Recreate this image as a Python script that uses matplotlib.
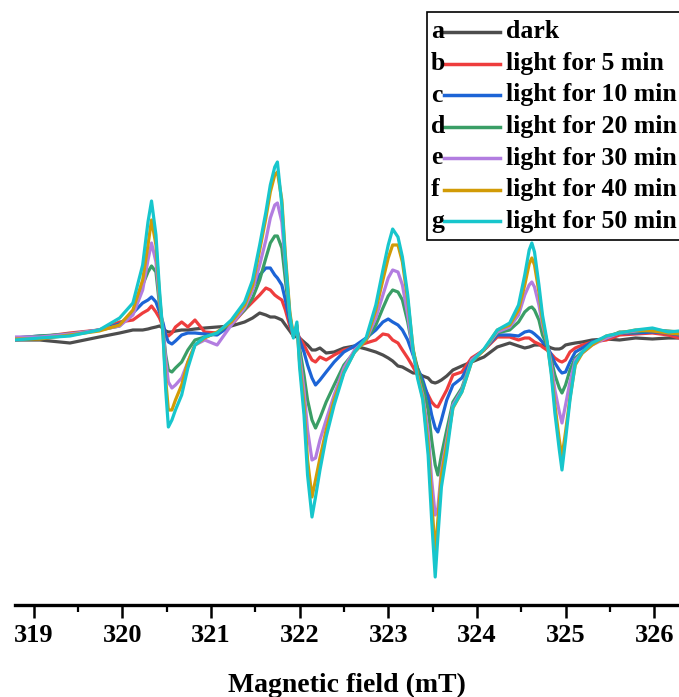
import matplotlib.pyplot as plt
from matplotlib.patches import Rectangle
from matplotlib.lines import Line2D
from matplotlib.ticker import MultipleLocator

plt.rcParams['font.family'] = ['Liberation Serif', 'DejaVu Serif']
plt.rcParams['font.weight'] = 'bold'

# magnetic field (mT), shared by all spectra
field = [318.79, 319.07, 319.41, 319.74, 319.97, 320.12, 320.23, 320.29, 320.33, 320.38,
         320.42, 320.46, 320.49, 320.52, 320.56, 320.60, 320.67, 320.74, 320.82, 320.93,
         321.07, 321.23, 321.38, 321.47, 321.55, 321.62, 321.67, 321.72, 321.75, 321.80,
         321.84, 321.89, 321.93, 321.97, 322.00, 322.05, 322.09, 322.14, 322.18, 322.23,
         322.30, 322.39, 322.50, 322.62, 322.75, 322.86, 322.94, 323.00, 323.05, 323.11,
         323.16, 323.22, 323.28, 323.33, 323.39, 323.45, 323.49, 323.53, 323.56, 323.60,
         323.66, 323.73, 323.83, 323.94, 324.08, 324.23, 324.37, 324.47, 324.54, 324.59,
         324.62, 324.65, 324.70, 324.74, 324.79, 324.84, 324.88, 324.93, 324.96, 325.00,
         325.05, 325.11, 325.19, 325.30, 325.46, 325.61, 325.79, 325.98, 326.16, 326.28]

# EPR intensity (a.u.)
dark = [0, 0, -3, 3, 7, 10, 10, 11, 12, 13,
        14, 12, 9, 8, 8, 9, 10, 10, 11, 12,
        13, 14, 18, 22, 27, 25, 23, 23, 22, 20,
        15, 9, 4, 3, 2, -2, -5, -10, -10, -8,
        -13, -12, -8, -6, -9, -12, -15, -18, -21, -26,
        -27, -30, -33, -33, -36, -38, -42, -43, -42, -40,
        -36, -30, -26, -22, -17, -7, -3, -6, -8, -7,
        -6, -5, -5, -5, -6, -8, -9, -9, -8, -5,
        -4, -3, -2, 0, 1, 0, 2, 1, 2, 2]

light_5 = [0, 3, 7, 10, 18, 20, 27, 30, 34, 28,
           22, 13, 6, 4, 7, 13, 18, 13, 20, 8,
           7, 15, 30, 38, 45, 52, 50, 45, 43, 40,
           30, 14, 4, 8, 2, -5, -12, -20, -22, -17,
           -20, -15, -10, -7, -3, 0, 6, 5, 0, -3,
           -10, -18, -27, -35, -45, -55, -62, -66, -67, -60,
           -50, -35, -32, -18, -10, 3, 3, 0, 2, 2,
           0, -2, -4, -7, -10, -14, -18, -21, -22, -20,
           -12, -8, -5, -2, 0, 5, 6, 7, 5, 2]

light_10 = [2, 4, 5, 10, 16, 27, 37, 40, 43, 38,
            28, 17, 5, -2, -4, -1, 5, 7, 7, 6,
            5, 15, 35, 52, 65, 72, 72, 65, 62, 55,
            40, 18, 4, 10, 0, -12, -25, -38, -45, -40,
            -32, -22, -12, -6, 2, 10, 18, 21, 18, 15,
            10, 0, -15, -28, -40, -57, -75, -88, -92, -80,
            -60, -45, -38, -20, -10, 5, 5, 4, 8, 9,
            8, 6, 2, -2, -6, -15, -23, -30, -33, -32,
            -22, -12, -8, -2, 2, 7, 7, 8, 7, 5]

light_20 = [2, 4, 6, 10, 14, 28, 55, 68, 74, 68,
            35, 10, -15, -30, -32, -28, -22, -10, 0, 3,
            7, 17, 30, 42, 60, 82, 97, 104, 104, 92,
            60, 22, 4, 13, -8, -35, -60, -80, -88, -78,
            -62, -45, -25, -12, 0, 15, 32, 44, 50, 48,
            40, 18, -10, -28, -45, -70, -100, -125, -135, -115,
            -90, -62, -48, -20, -10, 7, 10, 18, 28, 32,
            33, 30, 20, 5, -5, -20, -35, -48, -53, -45,
            -30, -18, -12, -3, 2, 8, 8, 10, 9, 8]

light_30 = [3, 3, 6, 10, 14, 25, 50, 80, 97, 78,
            40, 10, -20, -42, -48, -45, -38, -22, -5, 0,
            -5, 15, 32, 50, 75, 100, 122, 135, 137, 118,
            75, 25, 4, 14, -15, -50, -90, -120, -118, -100,
            -80, -55, -28, -10, 0, 22, 45, 62, 70, 68,
            55, 25, -12, -35, -55, -92, -140, -175, -168, -130,
            -100, -65, -50, -20, -10, 8, 13, 25, 45, 55,
            58, 53, 35, 15, -2, -25, -50, -72, -83, -65,
            -42, -20, -13, -5, 2, 7, 9, 11, 8, 8]

light_40 = [1, 1, 5, 9, 15, 30, 60, 95, 120, 95,
            45, 5, -40, -70, -70, -60, -45, -22, -5, 2,
            8, 18, 35, 55, 90, 122, 148, 165, 168, 140,
            85, 28, 4, 15, -22, -65, -120, -157, -140, -118,
            -90, -60, -32, -12, 0, 30, 60, 82, 95, 95,
            78, 40, -8, -35, -58, -105, -160, -213, -180, -135,
            -105, -68, -52, -22, -10, 10, 15, 30, 55, 76,
            82, 75, 48, 20, -2, -32, -65, -100, -117, -92,
            -58, -25, -13, -5, 4, 7, 10, 9, 7, 6]

light_50 = [0, 2, 4, 10, 22, 37, 75, 118, 139, 105,
            50, 5, -50, -87, -80, -70, -55, -28, -5, 3,
            7, 20, 38, 60, 95, 128, 155, 173, 178, 135,
            80, 25, 2, 18, -27, -75, -135, -177, -157, -130,
            -97, -65, -33, -12, 2, 35, 70, 95, 111, 103,
            83, 45, -10, -38, -60, -115, -180, -237, -197, -147,
            -113, -67, -52, -22, -9, 10, 17, 35, 65, 90,
            97, 88, 55, 25, 0, -35, -73, -110, -130, -100,
            -60, -23, -12, -3, 4, 7, 10, 12, 8, 9]

series = [dark, light_5, light_10, light_20, light_30, light_40, light_50]
letters = ['a', 'b', 'c', 'd', 'e', 'f', 'g']
labels = ['dark', 'light for 5 min', 'light for 10 min', 'light for 20 min',
          'light for 30 min', 'light for 40 min', 'light for 50 min']
colors = ['#4d4d4d', '#ee3d3d', '#1c64d6', '#3a9e66', '#b27de0', '#d29b06', '#17c6cc']

W, H = 679, 697
fig = plt.figure(figsize=(W / 100, H / 100), dpi=100)
ax = fig.add_axes([15 / W, (H - 605) / H, 664 / W, 605 / H])

for y, c in zip(series, colors):
    ax.plot(field, y, color=c, lw=2.3, solid_joinstyle='round')

ax.set_xlim(318.79, 326.28)
ax.set_ylim(-265, 340)

for s in ['left', 'right', 'top']:
    ax.spines[s].set_visible(False)
ax.spines['bottom'].set_linewidth(2.4)
ax.set_yticks([])
ax.xaxis.set_major_locator(MultipleLocator(1))
ax.xaxis.set_minor_locator(MultipleLocator(0.5))
ax.tick_params(axis='x', which='major', direction='out', length=9, width=1.8,
               labelsize=19, pad=5)
ax.tick_params(axis='x', which='minor', direction='out', length=5, width=1.6)
for t in ax.get_xticklabels():
    t.set_fontweight('bold')
ax.set_xlabel('Magnetic field (mT)', fontsize=20, fontweight='bold', labelpad=18)

# legend in the Origin style: letter, line sample, label
def fx(px):
    return px / W

def fy(py):
    return 1 - py / H

fig.patches.append(Rectangle((fx(427), fy(240)), fx(680) - fx(427), fy(12) - fy(240),
                             transform=fig.transFigure, fill=True, facecolor='white',
                             edgecolor='black', lw=1.2, zorder=5))
for i, (let, lab, c) in enumerate(zip(letters, labels, colors)):
    yy = 32 + 31.5 * i
    fig.text(fx(431), fy(yy), let, fontsize=18.5, fontweight='bold', va='center',
             ha='left', zorder=6)
    fig.lines.append(Line2D([fx(444), fx(500)], [fy(yy), fy(yy)], transform=fig.transFigure,
                            color=c, lw=2.5, zorder=6))
    fig.text(fx(506), fy(yy), lab, fontsize=18.5, fontweight='bold', va='center',
             ha='left', zorder=6)

fig.savefig('out.png', dpi=100)
